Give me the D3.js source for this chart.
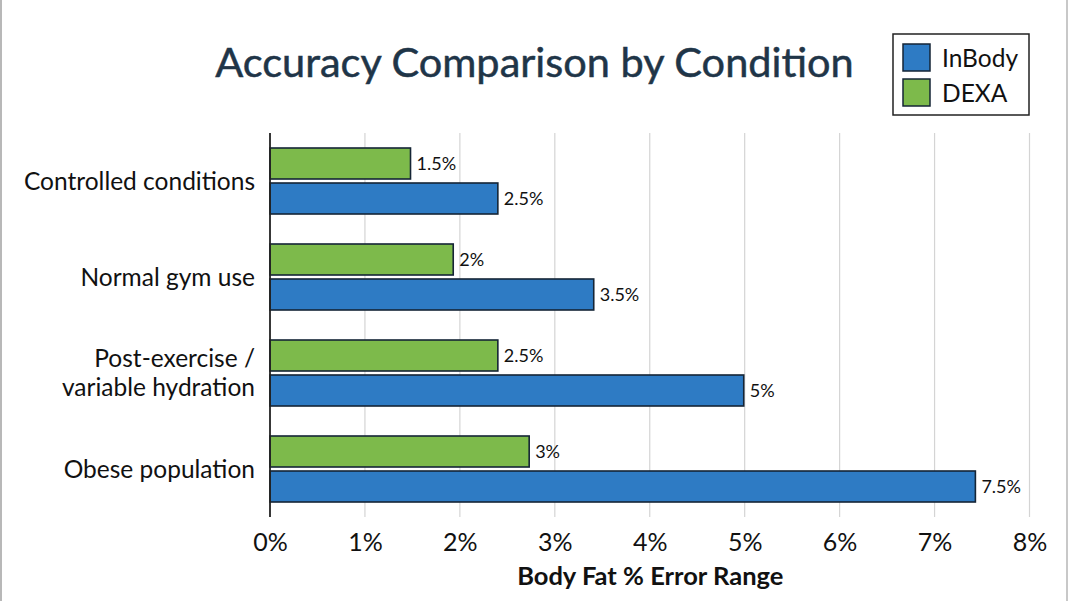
<!DOCTYPE html>
<html>
<head>
<meta charset="utf-8">
<script src="https://cdn.jsdelivr.net/npm/d3@7/dist/d3.min.js"></script>
<style>
  html, body { margin: 0; padding: 0; background: #fff; }
  svg { display: block; font-family: Lato, "Open Sans", sans-serif; }
</style>
</head>
<body>
<svg id="chart" width="1068" height="601"></svg>
<script>
// ---- data ----
const categories = ["Controlled conditions", "Normal gym use", "Post-exercise /\nvariable hydration", "Obese population"];
const seriesNames = ["DEXA", "InBody"];
const dexaValues = [1.48, 1.93, 2.4, 2.73];      // bar lengths as drawn
const inbodyValues = [2.4, 3.41, 4.99, 7.43];
const dexaLabels = ["1.5%", "2%", "2.5%", "3%"];
const inbodyLabels = ["2.5%", "3.5%", "5%", "7.5%"];
const xTicks = [0, 1, 2, 3, 4, 5, 6, 7, 8];
const legendNames = ["InBody", "DEXA"];
const colors = { InBody: "#2e7bc4", DEXA: "#7dba4b" };

const svg = d3.select("#chart");
const W = 1068, H = 601;

// frame edges
svg.append("line").attr("x1", 1).attr("x2", 1).attr("y1", 0).attr("y2", H).attr("stroke", "#b8b8b8").attr("stroke-width", 2);
svg.append("line").attr("x1", W - 1).attr("x2", W - 1).attr("y1", 0).attr("y2", H).attr("stroke", "#c8c8c8").attr("stroke-width", 2);

const x = d3.scaleLinear().domain([0, 8]).range([270, 1029.5]);
const y0 = d3.scaleBand().domain(categories).range([133, 517]).paddingInner(0).paddingOuter(0);
const y1 = d3.scaleBand().domain(seriesNames).range([15, y0.bandwidth() - 15]).paddingInner(4 / 35);

// gridlines
svg.append("g").selectAll("line").data(xTicks.filter(d => d > 0)).join("line")
  .attr("x1", d => x(d)).attr("x2", d => x(d))
  .attr("y1", 133).attr("y2", 517)
  .attr("stroke", "#d4d4d4").attr("stroke-width", 1.2);

// x axis tick labels
const xAxis = d3.axisBottom(x).tickValues(xTicks).tickSize(0).tickFormat(d => d + "%");
const gx = svg.append("g").attr("transform", "translate(0,527)").call(xAxis);
gx.select(".domain").remove();
gx.selectAll("text").attr("font-size", 25).attr("fill", "#111").attr("dy", "0.71em").attr("y", 6)
  .style("font-family", "Lato, sans-serif");

// x axis title
svg.append("text").attr("x", x(4) + 0.5).attr("y", 585).attr("text-anchor", "middle")
  .attr("font-size", 25.5).attr("font-weight", "bold").attr("fill", "#111")
  .text("Body Fat % Error Range");

// data rows
const rows = categories.map((c, i) => ({
  cat: c,
  bars: [
    { s: "DEXA", v: dexaValues[i], label: dexaLabels[i] },
    { s: "InBody", v: inbodyValues[i], label: inbodyLabels[i] }
  ]
}));

const g = svg.append("g").selectAll("g").data(rows).join("g")
  .attr("transform", d => `translate(0,${y0(d.cat)})`);

g.selectAll("rect").data(d => d.bars).join("rect")
  .attr("x", x(0))
  .attr("y", d => y1(d.s))
  .attr("width", d => x(d.v) - x(0))
  .attr("height", y1.bandwidth())
  .attr("fill", d => colors[d.s])
  .attr("stroke", "#152536").attr("stroke-width", 1.6);

g.selectAll("text.val").data(d => d.bars).join("text").attr("class", "val")
  .attr("x", d => x(d.v) + 6)
  .attr("y", d => y1(d.s) + y1.bandwidth() / 2)
  .attr("dy", "0.35em")
  .attr("font-size", 18).attr("fill", "#111")
  .text(d => d.label);

// y axis line
svg.append("line").attr("x1", x(0)).attr("x2", x(0)).attr("y1", 133).attr("y2", 517)
  .attr("stroke", "#222").attr("stroke-width", 1.8);

// y category labels
const yl = svg.append("g").selectAll("text").data(categories).join("text")
  .attr("text-anchor", "end").attr("font-size", 24.5).attr("fill", "#111")
  .attr("transform", d => `translate(255,${y0(d) + y0.bandwidth() / 2})`);
yl.each(function (d) {
  const lines = d.split("\n");
  const t = d3.select(this);
  lines.forEach((ln, k) => {
    t.append("tspan").attr("x", 0)
      .attr("dy", k === 0 ? `${0.35 - (lines.length - 1) * 0.6}em` : "1.2em")
      .text(ln);
  });
});

// title
svg.append("text").attr("x", 534.5).attr("y", 77).attr("text-anchor", "middle")
  .attr("font-size", 41.5).attr("fill", "#1f3548").attr("stroke", "#1f3548").attr("stroke-width", 0.5)
  .text("Accuracy Comparison by Condition");

// legend
const lg = svg.append("g").attr("transform", "translate(893,34)");
lg.append("rect").attr("width", 136).attr("height", 81).attr("fill", "#fff")
  .attr("stroke", "#222").attr("stroke-width", 1.5);
const li = lg.selectAll("g").data(legendNames).join("g")
  .attr("transform", (d, i) => `translate(10,${10 + i * 35})`);
li.append("rect").attr("width", 27).attr("height", 27)
  .attr("fill", d => colors[d]).attr("stroke", "#152536").attr("stroke-width", 1.5);
li.append("text").attr("x", 39).attr("y", 14).attr("dy", "0.35em")
  .attr("font-size", 24.5).attr("fill", "#111").text(d => d);
</script>
</body>
</html>
